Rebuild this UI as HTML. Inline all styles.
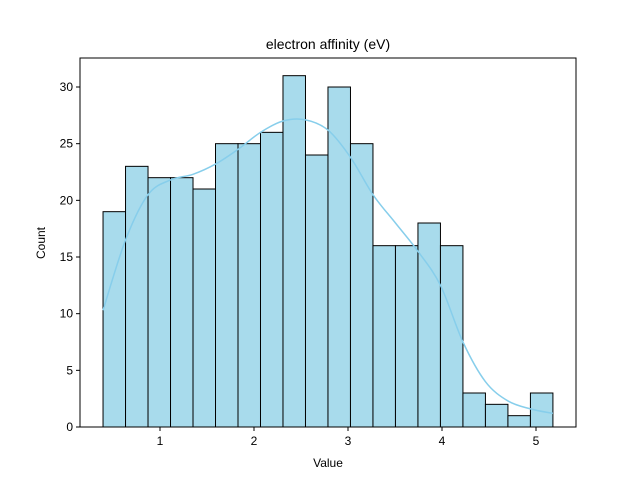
<!DOCTYPE html>
<html><head><meta charset="utf-8"><style>
body{margin:0;background:#fff;}
svg{display:block;font-family:"Liberation Sans","DejaVu Sans",sans-serif;}
</style></head><body>
<svg id="chart" width="640" height="480"></svg>
<script>
const counts=[19,23,22,22,21,25,25,26,31,24,30,25,16,16,18,16,3,2,1,3];
const binStart=0.394, binWidth=0.2393;
const kdeValues=[10.3,16.5,20.5,21.8,22.3,23.2,24.5,26,27,27.1,26.2,23.8,20.5,18,15.5,12.5,7.5,4,2.3,1.6,1.2];
const xTicks=[1,2,3,4,5];
const yTicks=[0,5,10,15,20,25,30];
const L=80,R=576,T=58,B=427;
const xs=v=>160+(v-1)*94;
const ys=v=>B-v*11.333;
const svg=document.getElementById('chart');
const NS='http://www.w3.org/2000/svg';
function mk(t,a,p){const e=document.createElementNS(NS,t);for(const k in a)e.setAttribute(k,a[k]);(p||svg).appendChild(e);return e;}
counts.forEach((c,i)=>{
 const x0=xs(binStart+i*binWidth),x1=xs(binStart+(i+1)*binWidth);
 const r=mk('rect',{x:x0,y:ys(c),width:x1-x0,height:B-ys(c),fill:'#a8dbec',stroke:'#000','stroke-width':1});
 
 
});
let pts=kdeValues.map((v,i)=>[xs(binStart+i*binWidth),ys(v)]);
let d='M'+pts[0][0]+','+pts[0][1];
for(let i=0;i<pts.length-1;i++){
 const p0=pts[Math.max(0,i-1)],p1=pts[i],p2=pts[i+1],p3=pts[Math.min(pts.length-1,i+2)];
 const c1=[p1[0]+(p2[0]-p0[0])/6,p1[1]+(p2[1]-p0[1])/6],c2=[p2[0]-(p3[0]-p1[0])/6,p2[1]-(p3[1]-p1[1])/6];
 d+=` C${c1[0]},${c1[1]} ${c2[0]},${c2[1]} ${p2[0]},${p2[1]}`;
}
const kde=mk('path',{d:d,fill:'none',stroke:'#87ceeb','stroke-width':1.5});


const frame=mk('rect',{x:L,y:T,width:R-L,height:B-T,fill:'none',stroke:'#000','stroke-width':1});


xTicks.forEach(t=>{
 const x=xs(t);
 mk('line',{x1:x,x2:x,y1:B,y2:B+4,stroke:'#000'});
 const tx=mk('text',{x:x,y:B+18,'text-anchor':'middle','font-size':12});
 tx.textContent=t;
 
 
});
yTicks.forEach(t=>{
 const y=ys(t);
 mk('line',{x1:L-4,x2:L,y1:y,y2:y,stroke:'#000'});
 const tx=mk('text',{x:L-7,y:y+4,'text-anchor':'end','font-size':12});
 tx.textContent=t;
 
 
});
const title=mk('text',{x:328,y:49,'text-anchor':'middle','font-size':14});
title.textContent='electron affinity (eV)';


const xl=mk('text',{x:328,y:467,'text-anchor':'middle','font-size':12});
xl.textContent='Value';


const yl=mk('text',{x:45,y:243,'text-anchor':'middle','font-size':12,transform:'rotate(-90 45 243)'});
yl.textContent='Count';


</script>
</body></html>
